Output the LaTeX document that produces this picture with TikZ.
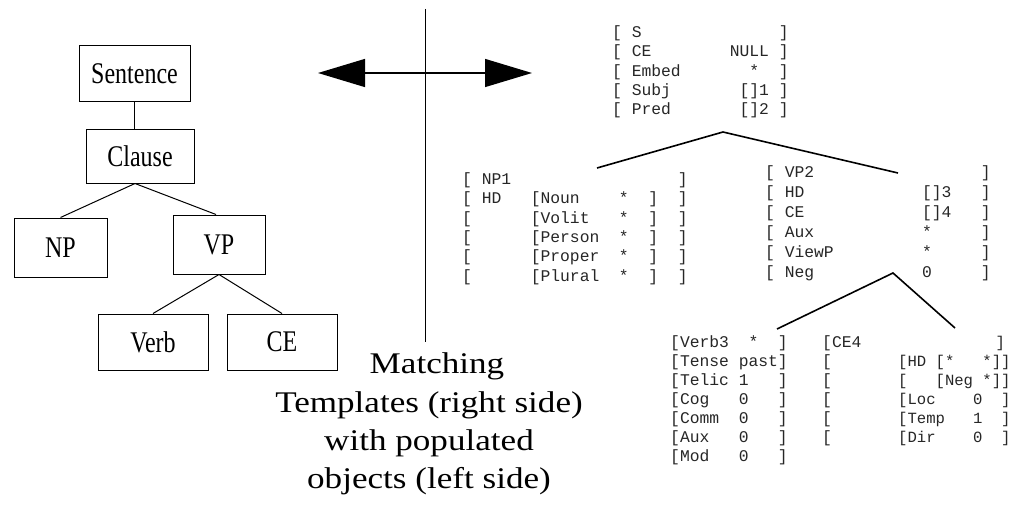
\documentclass[tikz,border=0pt]{standalone}
\usepackage{fontspec}
\setmainfont{Liberation Serif}
\newfontfamily\tplfont{Liberation Mono}[WordSpace={1,0,0}]
\usetikzlibrary{arrows.meta}

\tikzset{
  treebox/.style={draw, line width=1pt, inner sep=0pt,
    font=\fontsize{30}{30}\selectfont},
  tline/.style={line width=1pt},
  fsline/.style={line width=1.6pt},
  tpl/.style={anchor=base west, inner sep=0pt,
    font=\tplfont\fontsize{16.33}{19}\selectfont, text=black!85},
  tplnarrow/.style={tpl, font=\tplfont\fontsize{15.6}{19}\selectfont},
  caption/.style={anchor=base, inner sep=0pt,
    font=\fontsize{30}{38}\selectfont},
}
\newcommand{\cond}[1]{\scalebox{0.8}[1]{#1}}
\newcommand{\wide}[1]{\scalebox{1.17}[1]{#1}}

\begin{document}
\begin{tikzpicture}[x=1pt, y=-1pt]
\useasboundingbox (0,0) rectangle (1012,508);

% ---------- phrase-structure tree ----------
\node[treebox, minimum width=111pt, minimum height=56pt] (sent) at (134.5,74) {\cond{Sentence}};
\node[treebox, minimum width=108pt, minimum height=53pt] (clause) at (140,156.5) {\cond{Clause}};
\node[treebox, minimum width=93pt, minimum height=59pt] (np) at (60.5,247.5) {\cond{NP}};
\node[treebox, minimum width=92pt, minimum height=59pt] (vp) at (219,244.5) {\cond{VP}};
\node[treebox, minimum width=110pt, minimum height=56pt] (verb) at (153,342) {\cond{Verb}};
\node[treebox, minimum width=110pt, minimum height=56pt] (ce) at (282,342) {\cond{CE}};

\draw[tline] (sent.south) -- (sent.south |- clause.north);
\draw[tline] ([xshift=-5pt]clause.south) -- (np.north);
\draw[tline] ([xshift=-5pt]clause.south) -- ([xshift=-3pt]vp.north);
\draw[tline] (vp.south) -- (verb.north);
\draw[tline] (vp.south) -- (ce.north);

% ---------- divider and double arrow ----------
\coordinate (vtop) at (425.7,9);
\coordinate (vbot) at (425.7,342);
\draw[line width=1.3pt] (vtop) -- (vbot);
\coordinate (arrL) at (318,73);
\coordinate (arrR) at (532,73);
\draw[line width=1.3pt, {Triangle[length=47pt,width=28pt]}-{Triangle[length=47pt,width=28pt]}] (arrL) -- (arrR);

% ---------- caption ----------
\node[caption] (cap1) at (437,373) {\wide{Matching}};
\node[caption] (cap2) at (429,412) {\wide{Templates (right side)}};
\node[caption] (cap3) at (429,450) {\wide{with populated}};
\node[caption] (cap4) at (429,488) {\wide{objects (left side)}};

% ---------- feature-structure templates ----------
% sentence template
\node[tpl] (s1) at (612,37.5)  {[~S~~~~~~~~~~~~~~]};
\node[tpl] (s2) at (612,56.8)  {[~CE~~~~~~~~NULL~]};
\node[tpl] (s3) at (612,76.1)  {[~Embed~~~~~~~*~~]};
\node[tpl] (s4) at (612,95.4)  {[~Subj~~~~~~~[]1~]};
\node[tpl] (s5) at (612,114.7) {[~Pred~~~~~~~[]2~]};

% noun-phrase template
\node[tpl] (n1) at (462,184.5) {[~NP1~~~~~~~~~~~~~~~~~]};
\node[tpl] (n2) at (462,203.8) {[~HD~~~[Noun~~~~*~~]~~]};
\node[tpl] (n3) at (462,223.1) {[~~~~~~[Volit~~~*~~]~~]};
\node[tpl] (n4) at (462,242.4) {[~~~~~~[Person~~*~~]~~]};
\node[tpl] (n5) at (462,261.7) {[~~~~~~[Proper~~*~~]~~]};
\node[tpl] (n6) at (462,281.0) {[~~~~~~[Plural~~*~~]~~]};

% verb-phrase template
\node[tpl] (v1) at (765,177) {[~VP2~~~~~~~~~~~~~~~~~]};
\node[tpl] (v2) at (765,197) {[~HD~~~~~~~~~~~~[]3~~~]};
\node[tpl] (v3) at (765,217) {[~CE~~~~~~~~~~~~[]4~~~]};
\node[tpl] (v4) at (765,237) {[~Aux~~~~~~~~~~~*~~~~~]};
\node[tpl] (v5) at (765,257) {[~ViewP~~~~~~~~~*~~~~~]};
\node[tpl] (v6) at (765,277) {[~Neg~~~~~~~~~~~0~~~~~]};

% verb template
\node[tpl] (b1) at (670,347.5) {[Verb3~~*~~]};
\node[tpl] (b2) at (670,366.5) {[Tense~past]};
\node[tpl] (b3) at (670,385.5) {[Telic~1~~~]};
\node[tpl] (b4) at (670,404.5) {[Cog~~~0~~~]};
\node[tpl] (b5) at (670,423.5) {[Comm~~0~~~]};
\node[tpl] (b6) at (670,442.5) {[Aux~~~0~~~]};
\node[tpl] (b7) at (670,461.5) {[Mod~~~0~~~]};

% complement template
\node[tpl] (c1) at (822,347.5) {[CE4};
\node[tpl] (c2) at (822,366.5) {[};
\node[tpl] (c3) at (822,385.5) {[};
\node[tpl] (c4) at (822,404.5) {[};
\node[tpl] (c5) at (822,423.5) {[};
\node[tpl] (c6) at (822,442.5) {[};
\node[tplnarrow] (c1r) at (995.5,347.5) {]};
\node[tplnarrow] (i2) at (898,366.5) {[HD~[*~~~*]]};
\node[tplnarrow] (i3) at (898,385.5) {[~~~[Neg~*]]};
\node[tplnarrow] (i4) at (898,404.5) {[Loc~~~~0~~]};
\node[tplnarrow] (i5) at (898,423.5) {[Temp~~~1~~]};
\node[tplnarrow] (i6) at (898,442.5) {[Dir~~~~0~~]};

% template tree branches
\coordinate (topA) at (723,132);
\coordinate (topL) at (597,168);
\coordinate (topR) at (898,173);
\draw[fsline] (topL) -- (topA) -- (topR);
\coordinate (lowA) at (893,273);
\coordinate (lowL) at (777,329);
\coordinate (lowR) at (955,328);
\draw[fsline] (lowL) -- (lowA) -- (lowR);
\end{tikzpicture}
\end{document}
